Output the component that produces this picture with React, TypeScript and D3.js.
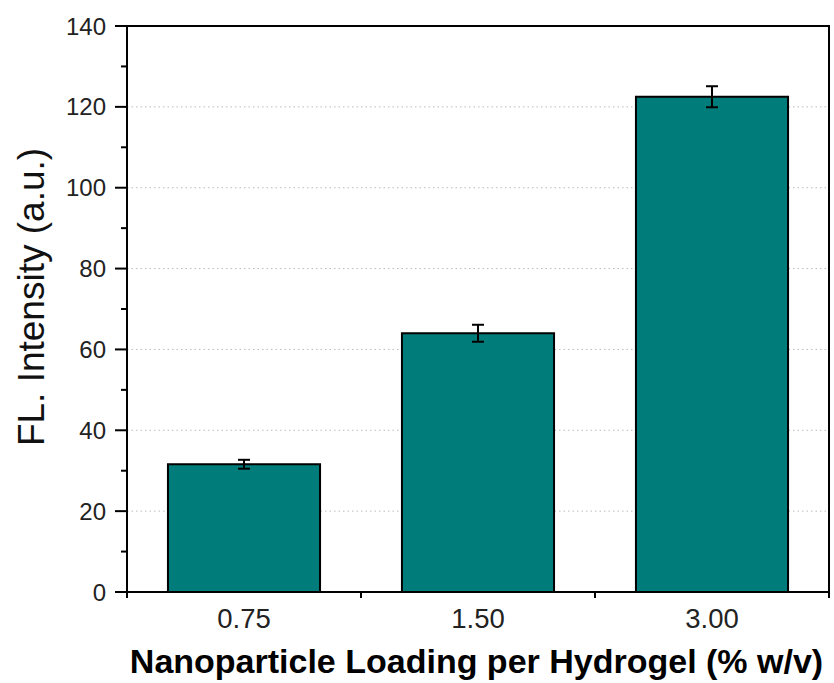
import React from "react";
import * as d3 from "d3";

const categories = ["0.75", "1.50", "3.00"];
const values = [31.6, 64.0, 122.5];
const errors = [1.1, 2.1, 2.6];
const yTicks = [0, 20, 40, 60, 80, 100, 120, 140];
const yMinorTicks = [10, 30, 50, 70, 90, 110, 130];
const gridTicks = [20, 40, 60, 80, 100, 120];

const W = 834;
const H = 683;
const M = { left: 127, right: 829, top: 26, bottom: 592 };

export default function App() {
  const x = d3
    .scaleBand<string>()
    .domain(categories)
    .range([M.left, M.right])
    .paddingInner(0.35)
    .paddingOuter(0.175);
  const xb = d3.scaleBand<string>().domain(categories).range([M.left, M.right]);
  const y = d3.scaleLinear().domain([0, 140]).range([M.bottom, M.top]);
  const font = "Arial, 'Liberation Sans', sans-serif";
  const boundaries = [M.left, ...categories.map((c) => (xb(c) as number) + xb.bandwidth())];

  return (
    <svg
      width={W}
      height={H}
      style={{ position: "absolute", left: 0, top: 0, background: "#fff" }}
      fontFamily={font}
    >
      {gridTicks.map((t) => (
        <line
          key={"g" + t}
          x1={M.left}
          x2={M.right}
          y1={y(t)}
          y2={y(t)}
          stroke="#bbb"
          strokeWidth={1}
          strokeDasharray="1.5 3"
        />
      ))}
      {categories.map((c, i) => {
        const bx = x(c) as number;
        const cx = bx + x.bandwidth() / 2;
        return (
          <g key={c}>
            <rect
              x={bx}
              y={y(values[i])}
              width={x.bandwidth()}
              height={y(0) - y(values[i])}
              fill="#007d7a"
              stroke="#000"
              strokeWidth={2}
            />
            <line x1={cx} x2={cx} y1={y(values[i] + errors[i])} y2={y(values[i] - errors[i])} stroke="#000" strokeWidth={2} />
            <line x1={cx - 6} x2={cx + 6} y1={y(values[i] + errors[i])} y2={y(values[i] + errors[i])} stroke="#000" strokeWidth={2} />
            <line x1={cx - 6} x2={cx + 6} y1={y(values[i] - errors[i])} y2={y(values[i] - errors[i])} stroke="#000" strokeWidth={2} />
            <text x={cx} y={628} textAnchor="middle" fontSize={27.5} fill="#222">
              {c}
            </text>
          </g>
        );
      })}
      {/* frame */}
      <rect
        x={M.left}
        y={M.top}
        width={M.right - M.left}
        height={M.bottom - M.top}
        fill="none"
        stroke="#000"
        strokeWidth={2}
      />
      {/* y ticks */}
      {yTicks.map((t) => (
        <g key={"y" + t}>
          <line x1={M.left - 12} x2={M.left} y1={y(t)} y2={y(t)} stroke="#000" strokeWidth={2} />
          <text x={106} y={y(t)} dy="0.36em" textAnchor="end" fontSize={24} fill="#222">
            {t}
          </text>
        </g>
      ))}
      {yMinorTicks.map((t) => (
        <line key={"m" + t} x1={M.left - 6} x2={M.left} y1={y(t)} y2={y(t)} stroke="#000" strokeWidth={2} />
      ))}
      {boundaries.map((bx, i) => (
        <line key={"b" + i} x1={bx} x2={bx} y1={M.bottom} y2={M.bottom + 6} stroke="#000" strokeWidth={2} />
      ))}
      <text
        transform={`translate(44, 297) rotate(-90)`}
        textAnchor="middle"
        fontSize={37}
        fill="#111"
      >
        FL. Intensity (a.u.)
      </text>
      <text x={476.5} y={673} textAnchor="middle" fontSize={34} fontWeight="bold" fill="#000">
        Nanoparticle Loading per Hydrogel (% w/v)
      </text>
    </svg>
  );
}
